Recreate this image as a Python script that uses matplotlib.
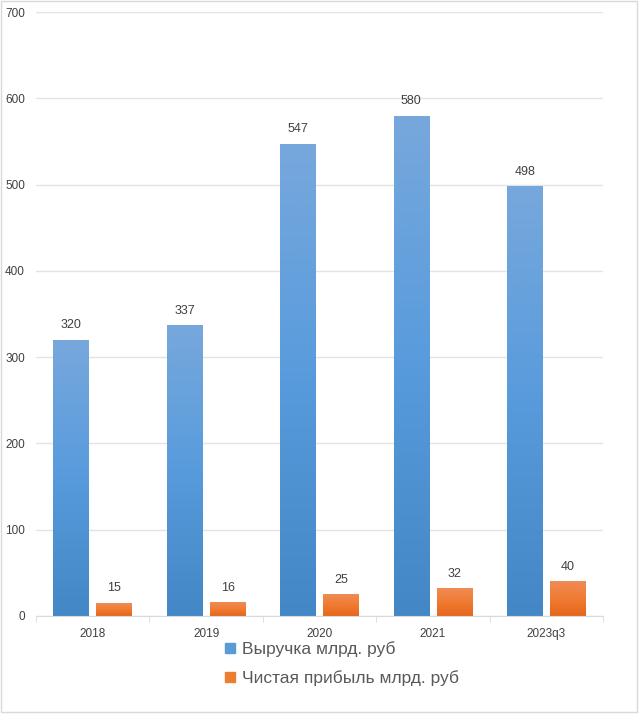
"""Revenue and net profit by year, bars with Excel-like gradient fill."""

import numpy as np
import matplotlib.pyplot as plt
from matplotlib.colors import LinearSegmentedColormap
from matplotlib.lines import Line2D
from matplotlib.patches import Rectangle

years = ["2018", "2019", "2020", "2021", "2023q3"]
revenue = [320, 337, 547, 580, 498]
profit = [15, 16, 25, 32, 40]
series_names = ["Выручка млрд. руб", "Чистая прибыль млрд. руб"]

plt.rcParams["font.family"] = ["Liberation Sans", "DejaVu Sans"]

blue_cmap = LinearSegmentedColormap.from_list("b", ["#4487c6", "#589bdc", "#77a8dc"])
orange_cmap = LinearSegmentedColormap.from_list("o", ["#e5661c", "#f07b32", "#f08c55"])

fig = plt.figure(figsize=(6.4, 7.15), dpi=100)
ax = fig.add_axes([0.05625, 0.1385, 0.8860, 0.8447])

x = np.arange(len(years))
width = 0.315
offset = 0.19


def gradient_bars(xs, heights, cmap):
    bars = ax.bar(xs, heights, width, color="none", zorder=2)
    grad = np.linspace(0, 1, 256).reshape(-1, 1)
    for b in bars:
        x0, y0 = b.get_x(), b.get_y()
        w, h = b.get_width(), b.get_height()
        im = ax.imshow(grad, cmap=cmap, origin="lower", aspect="auto",
                       extent=(x0, x0 + w, y0, y0 + h), zorder=2)
        im.set_clip_path(b)
    return bars


gradient_bars(x - offset, revenue, blue_cmap)
gradient_bars(x + offset, profit, orange_cmap)

for xi, v in zip(x - offset, revenue):
    ax.text(xi, v + 10, str(v), ha="center", va="bottom", fontsize=9, color="#404040")
for xi, v in zip(x + offset, profit):
    ax.text(xi, v + 10, str(v), ha="center", va="bottom", fontsize=9, color="#404040")

ax.set_xlim(-0.5, len(years) - 0.5)
ax.set_ylim(0, 700)
ax.set_yticks(range(0, 701, 100))
ax.set_xticks(x)
ax.set_xticklabels(years)
ax.set_xticks(np.arange(-0.5, len(years)), minor=True)
ax.tick_params(axis="x", which="major", length=0, pad=9, labelsize=8.5, labelcolor="#404040")
ax.tick_params(axis="x", which="minor", length=4, color="#d9d9d9", direction="out")
ax.tick_params(axis="y", length=0, pad=8, labelsize=8.5, labelcolor="#404040")
ax.grid(axis="y", color="#e3e3e3", linewidth=1, zorder=0)
ax.set_axisbelow(True)
for s in ["top", "right", "left"]:
    ax.spines[s].set_visible(False)
ax.spines["bottom"].set_color("#d9d9d9")

handles = [
    Line2D([], [], marker="s", linestyle="none", markersize=7, color="#5b9bd5"),
    Line2D([], [], marker="s", linestyle="none", markersize=7, color="#ed7d31"),
]
fig.legend(handles, series_names, loc="upper left", bbox_to_anchor=(0.338, 0.116),
           frameon=False, fontsize=12.5, labelcolor="#595959", handlelength=0.6,
           handletextpad=0.4, labelspacing=0.8, borderpad=0)

fig.patches.append(Rectangle((0.002, 0.004), 0.994, 0.994, transform=fig.transFigure,
                             fill=False, edgecolor="#d9d9d9", linewidth=1))

fig.savefig("out.png", dpi=100)
